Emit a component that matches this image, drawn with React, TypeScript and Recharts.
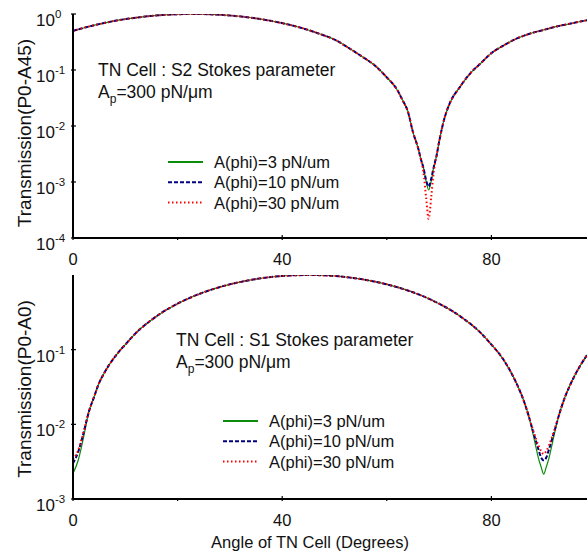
import { LineChart, Line, XAxis, YAxis } from 'recharts'

const FONT = '"Liberation Sans", Arial, Helvetica, sans-serif'

// top panel: S2 Stokes parameter
const topAngles = [0, 2.5, 5, 7.5, 10, 12.5, 15, 17.5, 20, 22.5, 25, 27.5, 30, 32.5, 35, 37.5, 40, 42.5, 45, 47.5, 50, 52.5, 55, 57.5, 60, 62, 63, 64, 65, 66, 66.5, 67, 67.5, 68, 68.5, 69, 69.5, 70, 71, 72, 74, 76, 78, 80, 82.5, 85, 87.5, 90, 92.5, 95, 97.5, 100]
const topG = [0.5, 0.58, 0.66, 0.74, 0.81, 0.87, 0.925, 0.963, 0.989, 1.0, 0.995, 0.976, 0.94, 0.894, 0.835, 0.765, 0.687, 0.604, 0.517, 0.43, 0.35, 0.255, 0.18, 0.125, 0.074, 0.044, 0.029, 0.0185, 0.0078, 0.004, 0.0026, 0.0018, 0.00105, 0.00072, 0.00105, 0.0019, 0.0029, 0.0052, 0.0135, 0.025, 0.05, 0.088, 0.133, 0.2, 0.28, 0.37, 0.45, 0.52, 0.6, 0.67, 0.75, 0.81]
const topB = [0.5, 0.58, 0.66, 0.74, 0.81, 0.87, 0.925, 0.963, 0.989, 1.0, 0.995, 0.976, 0.94, 0.894, 0.835, 0.765, 0.687, 0.604, 0.517, 0.43, 0.35, 0.255, 0.18, 0.125, 0.074, 0.044, 0.029, 0.0185, 0.0078, 0.004, 0.0026, 0.0018, 0.0011, 0.00083, 0.00115, 0.0019, 0.0029, 0.0052, 0.0135, 0.025, 0.05, 0.088, 0.133, 0.2, 0.28, 0.37, 0.45, 0.52, 0.6, 0.67, 0.75, 0.81]
const topR = [0.5, 0.58, 0.66, 0.74, 0.81, 0.87, 0.925, 0.963, 0.989, 1.0, 0.995, 0.976, 0.94, 0.894, 0.835, 0.765, 0.687, 0.604, 0.517, 0.43, 0.35, 0.255, 0.18, 0.125, 0.074, 0.044, 0.029, 0.0185, 0.0078, 0.004, 0.0026, 0.0015, 0.00055, 0.00022, 0.00055, 0.0016, 0.0029, 0.0052, 0.0135, 0.025, 0.05, 0.088, 0.133, 0.2, 0.28, 0.37, 0.45, 0.52, 0.6, 0.67, 0.75, 0.81]

// bottom panel: S1 Stokes parameter
const botAngles = [0, 1, 2, 3, 4, 5, 6, 7, 8, 9, 10, 12.5, 15, 17.5, 20, 22.5, 25, 27.5, 30, 32.5, 35, 37.5, 40, 42.5, 45, 47.5, 50, 52.5, 55, 57.5, 60, 62.5, 65, 67.5, 70, 72.5, 75, 77.5, 80, 82, 84, 85, 86, 87, 88, 88.5, 89, 89.5, 90, 90.5, 91, 91.5, 92, 93, 94, 95, 96, 98, 100]
const botG = [0.0022, 0.0033, 0.0066, 0.0145, 0.023, 0.036, 0.049, 0.064, 0.08, 0.098, 0.117, 0.18, 0.25, 0.33, 0.413, 0.5, 0.587, 0.671, 0.75, 0.821, 0.883, 0.933, 0.97, 0.992, 1.0, 0.992, 0.97, 0.933, 0.883, 0.821, 0.75, 0.671, 0.587, 0.5, 0.413, 0.33, 0.25, 0.18, 0.117, 0.079, 0.046, 0.033, 0.0225, 0.0139, 0.0072, 0.005, 0.0035, 0.0027, 0.00215, 0.0027, 0.0035, 0.005, 0.0072, 0.0139, 0.0225, 0.033, 0.046, 0.079, 0.117]
const botB = [0.003, 0.0043, 0.0076, 0.0145, 0.023, 0.036, 0.049, 0.064, 0.08, 0.098, 0.117, 0.18, 0.25, 0.33, 0.413, 0.5, 0.587, 0.671, 0.75, 0.821, 0.883, 0.933, 0.97, 0.992, 1.0, 0.992, 0.97, 0.933, 0.883, 0.821, 0.75, 0.671, 0.587, 0.5, 0.413, 0.33, 0.25, 0.18, 0.117, 0.079, 0.046, 0.033, 0.0225, 0.0139, 0.0079, 0.006, 0.0046, 0.0036, 0.0033, 0.0036, 0.0046, 0.006, 0.0079, 0.0139, 0.0225, 0.033, 0.046, 0.079, 0.117]
const botR = [0.0034, 0.0045, 0.0077, 0.0145, 0.023, 0.036, 0.049, 0.064, 0.08, 0.098, 0.117, 0.18, 0.25, 0.33, 0.413, 0.5, 0.587, 0.671, 0.75, 0.821, 0.883, 0.933, 0.97, 0.992, 1.0, 0.992, 0.97, 0.933, 0.883, 0.821, 0.75, 0.671, 0.587, 0.5, 0.413, 0.33, 0.25, 0.18, 0.117, 0.079, 0.046, 0.033, 0.0225, 0.0139, 0.0082, 0.0065, 0.0052, 0.0044, 0.004, 0.0044, 0.0052, 0.0065, 0.0082, 0.0139, 0.0225, 0.033, 0.046, 0.079, 0.117]

const X_TICKS = [0, 20, 40, 60, 80, 100]
const X_LABELED = [0, 40, 80]
const TOP_Y_TICKS = [1e-4, 1e-3, 1e-2, 1e-1, 1]
const BOT_Y_TICKS = [1e-3, 1e-2, 1e-1]

const SERIES = [
  { key: 'g', name: 'A(phi)=3 pN/um', color: '#0b8c0b', width: 1.2, legendWidth: 2.2, dash: undefined },
  { key: 'b', name: 'A(phi)=10 pN/um', color: '#00007f', width: 2, legendWidth: 2, dash: '4 2' },
  { key: 'r', name: 'A(phi)=30 pN/um', color: '#ff0000', width: 2, legendWidth: 2, dash: '1.5 2.5' },
]

const topRows = topAngles.map((x, i) => ({ x, g: topG[i], b: topB[i], r: topR[i] }))
const botRows = botAngles.map((x, i) => ({ x, g: botG[i], b: botB[i], r: botR[i] }))

const XTick = ({ x, y, payload }: any) => {
  const major = X_LABELED.includes(payload.value)
  return (
    <g>
      <line x1={x} x2={x} y1={y} y2={y - (major ? 5 : 3)} stroke="#000" strokeWidth={1.2} />
      {major && (
        <text x={x} y={y + 25} textAnchor="middle" fontSize={16.5} fontFamily={FONT} fill="#111">
          {payload.value}
        </text>
      )}
    </g>
  )
}

const YTick = ({ x, y, payload }: any) => {
  const exp = Math.round(Math.log10(payload.value))
  return (
    <g>
      <line x1={x} x2={x + 5} y1={y} y2={y} stroke="#000" strokeWidth={1.2} />
      <text x={x - 35} y={y + 12} fontSize={17} fontFamily={FONT} fill="#111">
        10<tspan dy={-8} fontSize={11.5}>{exp}</tspan>
      </text>
    </g>
  )
}

const Panel = ({ rows, domain, ticks }: any) => (
  <LineChart width={620} height={270} data={rows} margin={{ top: 14, right: 24, left: 0, bottom: 0 }}>
    <XAxis
      dataKey="x" type="number" domain={[0, 100]} ticks={X_TICKS} height={32}
      tickSize={0} tickLine={false} tick={<XTick />} interval={0}
      axisLine={{ stroke: '#000', strokeWidth: 2 }}
    />
    <XAxis
      xAxisId="frame" orientation="top" type="number" domain={[0, 100]} height={0}
      tick={false} tickLine={false} axisLine={{ stroke: '#000', strokeWidth: 2 }}
    />
    <YAxis
      scale="log" type="number" domain={domain} ticks={ticks} allowDataOverflow width={73}
      tickSize={0} tickLine={false} tick={<YTick />} interval={0}
      axisLine={{ stroke: '#000', strokeWidth: 2 }}
    />
    {SERIES.map(s => (
      <Line
        key={s.key} dataKey={s.key} type="monotone" stroke={s.color} strokeWidth={s.width}
        strokeDasharray={s.dash} dot={false} activeDot={false} isAnimationActive={false}
      />
    ))}
  </LineChart>
)

const Legend = ({ x, y }: { x: number; y: number }) => (
  <g>
    {SERIES.map((s, i) => (
      <g key={s.key}>
        <line x1={x} x2={x + 35} y1={y + i * 20.3} y2={y + i * 20.3}
          stroke={s.color} strokeWidth={s.legendWidth} strokeDasharray={s.dash} />
        <text x={x + 46} y={y + i * 20.3 + 6} fontSize={16.5} fontFamily={FONT} fill="#111">{s.name}</text>
      </g>
    ))}
  </g>
)

const Note = ({ x, y, label }: { x: number; y: number; label: string }) => (
  <g fontFamily={FONT} fontSize={17.5} fill="#111">
    <text x={x} y={y}>{label}</text>
    <text x={x} y={y + 22}>
      A<tspan dy={5} fontSize={12}>p</tspan><tspan dy={-5}>=300 pN/μm</tspan>
    </text>
  </g>
)

export default function App() {
  return (
    <div style={{ position: 'fixed', left: 0, top: 0, width: 587, height: 554, overflow: 'hidden', background: '#fff', fontFamily: FONT }}>
      <div style={{ position: 'absolute', left: 0, top: 0 }}>
        <Panel rows={topRows} domain={[1e-4, 1]} ticks={TOP_Y_TICKS} />
      </div>
      <div style={{ position: 'absolute', left: 0, top: 261 }}>
        <Panel rows={botRows} domain={[1e-3, 1]} ticks={BOT_Y_TICKS} />
      </div>
      <svg width={587} height={554} style={{ position: 'absolute', left: 0, top: 0, pointerEvents: 'none' }}>
        <Note x={98} y={76} label="TN Cell : S2 Stokes parameter" />
        <Note x={176} y={346} label="TN Cell : S1 Stokes parameter" />
        <Legend x={168} y={162} />
        <Legend x={223} y={421} />
        <text transform="translate(31,133) rotate(-90)" textAnchor="middle" fontSize={19} fontFamily={FONT} fill="#111">
          Transmission(P0-A45)
        </text>
        <text transform="translate(31,389) rotate(-90)" textAnchor="middle" fontSize={19} fontFamily={FONT} fill="#111">
          Transmission(P0-A0)
        </text>
        <text x={310} y={548} textAnchor="middle" fontSize={16.5} fontFamily={FONT} fill="#111">
          Angle of TN Cell (Degrees)
        </text>
      </svg>
    </div>
  )
}
